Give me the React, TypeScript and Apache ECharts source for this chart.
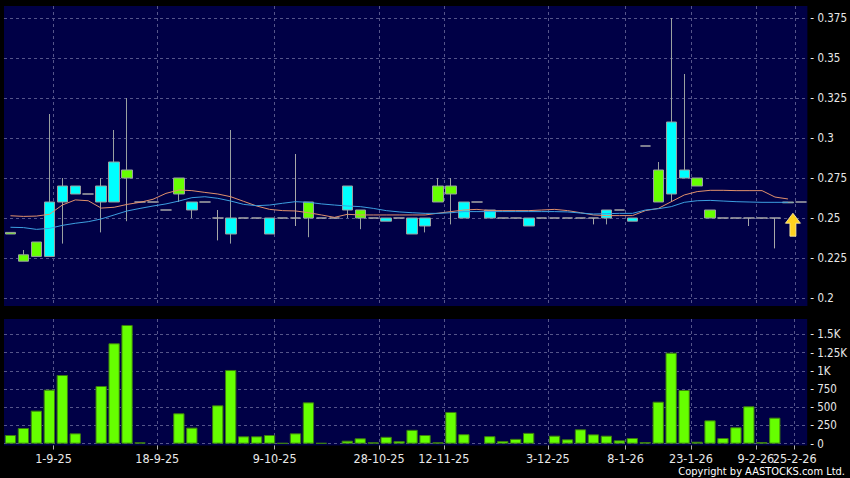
import React, { useEffect, useRef } from "react";
import * as echarts from "echarts";

// Slots of the category axis (one per trading slot shown)
const SLOTS: string[] = Array.from({ length: 62 }, (_, i) => String(i));

// Date tick labels and their positions (in slot units)
const DATE_LABELS = ["1-9-25", "18-9-25", "9-10-25", "28-10-25", "12-11-25", "3-12-25", "8-1-26", "23-1-26", "9-2-26", "25-2-26"];
const DATE_POS = [3.32, 11.33, 20.39, 28.45, 33.45, 41.48, 47.48, 52.53, 57.54, 60.54];

const PRICE_TICKS = [0.2, 0.225, 0.25, 0.275, 0.3, 0.325, 0.35, 0.375];
const VOLUME_TICKS = [0, 250, 500, 750, 1000, 1250, 1500];

// [open, close, low, high]
const CANDLES: (number[] | null)[] = [
  [0.241, 0.240, 0.240, 0.241],
  [0.227, 0.223, 0.223, 0.230],
  [0.235, 0.226, 0.226, 0.235],
  [0.226, 0.260, 0.226, 0.315],
  [0.260, 0.270, 0.234, 0.275],
  [0.265, 0.270, 0.265, 0.270],
  [0.265, 0.265, 0.265, 0.265],
  [0.260, 0.270, 0.241, 0.275],
  [0.260, 0.285, 0.260, 0.305],
  [0.280, 0.275, 0.248, 0.325],
  [0.260, 0.260, 0.260, 0.260],
  [0.260, 0.260, 0.260, 0.260],
  [0.255, 0.255, 0.255, 0.255],
  [0.275, 0.265, 0.260, 0.275],
  [0.255, 0.260, 0.250, 0.260],
  [0.260, 0.260, 0.260, 0.260],
  [0.250, 0.250, 0.236, 0.255],
  [0.240, 0.250, 0.234, 0.305],
  [0.250, 0.250, 0.250, 0.250],
  [0.250, 0.250, 0.250, 0.250],
  [0.240, 0.250, 0.240, 0.250],
  [0.250, 0.250, 0.250, 0.250],
  [0.250, 0.250, 0.245, 0.290],
  [0.260, 0.250, 0.238, 0.260],
  [0.250, 0.250, 0.250, 0.250],
  [0.250, 0.250, 0.250, 0.250],
  [0.255, 0.270, 0.250, 0.270],
  [0.255, 0.250, 0.243, 0.255],
  [0.250, 0.250, 0.250, 0.250],
  [0.248, 0.250, 0.248, 0.250],
  [0.250, 0.250, 0.250, 0.250],
  [0.240, 0.250, 0.240, 0.250],
  [0.245, 0.250, 0.241, 0.250],
  [0.270, 0.260, 0.260, 0.275],
  [0.270, 0.265, 0.246, 0.275],
  [0.250, 0.260, 0.250, 0.260],
  [0.260, 0.260, 0.260, 0.260],
  [0.250, 0.255, 0.250, 0.255],
  [0.250, 0.250, 0.250, 0.250],
  [0.250, 0.250, 0.250, 0.250],
  [0.245, 0.250, 0.245, 0.250],
  [0.250, 0.250, 0.250, 0.250],
  [0.250, 0.250, 0.250, 0.250],
  [0.250, 0.250, 0.250, 0.250],
  [0.250, 0.250, 0.250, 0.250],
  [0.250, 0.250, 0.246, 0.250],
  [0.250, 0.255, 0.246, 0.255],
  [0.255, 0.255, 0.255, 0.255],
  [0.248, 0.250, 0.248, 0.250],
  [0.295, 0.295, 0.295, 0.295],
  [0.280, 0.260, 0.260, 0.285],
  [0.265, 0.310, 0.260, 0.375],
  [0.275, 0.280, 0.275, 0.340],
  [0.275, 0.270, 0.270, 0.275],
  [0.255, 0.250, 0.250, 0.255],
  [0.250, 0.250, 0.250, 0.250],
  [0.250, 0.250, 0.250, 0.250],
  [0.250, 0.250, 0.245, 0.250],
  [0.250, 0.250, 0.250, 0.250],
  [0.250, 0.250, 0.231, 0.250],
  [0.2595, 0.260, 0.2595, 0.260],
  [0.260, 0.260, 0.260, 0.260],
];

const MA_SHORT: (number | null)[] = [
  0.2514, 0.2510, 0.2512, 0.2523, 0.2581, 0.2613, 0.2608, 0.2562, 0.2567, 0.2585,
  0.2598, 0.2617, 0.2654, 0.2675, 0.2671, 0.2660, 0.2650, 0.2633, 0.2604, 0.2575,
  0.2554, 0.2546, 0.2544, 0.2533, 0.2519, 0.2504, 0.2523, 0.2519, 0.2519, 0.2519,
  0.2519, 0.2519, 0.2519, 0.2530, 0.2540, 0.2550, 0.2554, 0.2546, 0.2546, 0.2546,
  0.2546, 0.2550, 0.2554, 0.2546, 0.2533, 0.2519, 0.2515, 0.2515, 0.2515, 0.2546,
  0.2560, 0.2602, 0.2644, 0.2665, 0.2673, 0.2673, 0.2671, 0.2671, 0.2671, 0.2631,
  0.2619, null,
];

const MA_LONG: (number | null)[] = [
  0.2442, 0.2440, 0.2429, 0.2435, 0.2454, 0.2467, 0.2477, 0.2494, 0.2519, 0.2544,
  0.2560, 0.2575, 0.2588, 0.2606, 0.2627, 0.2633, 0.2623, 0.2606, 0.2585, 0.2577,
  0.2581, 0.2592, 0.2602, 0.2598, 0.2588, 0.2581, 0.2575, 0.2571, 0.2560, 0.2546,
  0.2538, 0.2533, 0.2529, 0.2529, 0.2533, 0.2540, 0.2540, 0.2540, 0.2540, 0.2540,
  0.2540, 0.2540, 0.2540, 0.2538, 0.2531, 0.2525, 0.2527, 0.2529, 0.2529, 0.2550,
  0.2558, 0.2571, 0.2598, 0.2608, 0.2610, 0.2606, 0.2602, 0.2600, 0.2598, 0.2598,
  0.2598, null,
];

const VOLUME: number[] = [
  119, 215, 453, 741, 942, 142, 0, 791, 1377, 1628,
  19, 0, 0, 417, 220, 0, 526, 1011, 101, 101,
  119, 10, 142, 567, 10, 0, 41, 74, 19, 94,
  35, 190, 119, 19, 435, 130, 0, 103, 37, 66,
  148, 0, 110, 60, 197, 128, 110, 46, 78, 23,
  576, 1248, 736, 27, 320, 78, 225, 513, 23, 357,
  0, 0,
];

// Arrow marker [slot, price]
const ARROW: [number, number] = [60, 0.2458];

const FONT = '"DejaVu Sans Condensed", "DejaVu Sans", sans-serif';
const PANEL = "#000046";
const GRIDLINE = "#55558a";
const DASH = "#a8a8a8";

export default function App() {
  const ref = useRef<HTMLDivElement>(null);

  useEffect(() => {
    const chart = echarts.init(ref.current!, null, { renderer: "svg" });

    const candleData = CANDLES.map((c) => {
      if (!c) return "-";
      if (c[0] === c[1]) {
        return {
          value: c,
          itemStyle: { color: DASH, color0: DASH, borderColor: DASH, borderColor0: DASH, borderColorDoji: DASH },
        };
      }
      return c;
    });

    const splitLine = { show: true, lineStyle: { color: GRIDLINE, type: [3, 3], width: 1 } };

    // Two label axes so that the overlapping last two labels are both drawn
    const mainPos = DATE_POS.slice(0, DATE_POS.length - 1);
    const lastPos = DATE_POS.slice(DATE_POS.length - 1);
    const labelAxis = (pos: number[], withSplit: boolean) => ({
      type: "value", gridIndex: 1, min: -0.5, max: 61.5, position: "bottom",
      axisLine: { show: false, onZero: false },
      axisTick: { show: true, length: 4, customValues: pos, lineStyle: { color: "#b0b0b0" } },
      axisLabel: {
        customValues: pos,
        showMinLabel: true,
        showMaxLabel: true,
        hideOverlap: false,
        margin: 6,
        color: "#e8e8e8",
        fontSize: 12.5,
        fontFamily: FONT,
        formatter: (v: number) => {
          const i = DATE_POS.indexOf(v);
          return i >= 0 ? DATE_LABELS[i] : "";
        },
      },
      splitLine: withSplit ? splitLine : { show: false },
    });

    const option: any = {
      animation: false,
      backgroundColor: "#000",
      grid: [
        { left: 4, right: 42, top: 6, height: 300, show: true, backgroundColor: PANEL, borderWidth: 0 },
        { left: 4, right: 42, top: 319, height: 126.5, show: true, backgroundColor: PANEL, borderWidth: 0 },
      ],
      xAxis: [
        { type: "category", gridIndex: 0, data: SLOTS, show: false, boundaryGap: true },
        { type: "category", gridIndex: 1, data: SLOTS, show: false, boundaryGap: true },
        {
          type: "value", gridIndex: 0, min: -0.5, max: 61.5,
          axisLine: { show: false },
          axisTick: { show: false, customValues: DATE_POS },
          axisLabel: { show: false, customValues: DATE_POS },
          splitLine,
        },
        labelAxis(mainPos, true),
        labelAxis(lastPos, true),
      ],
      yAxis: [
        {
          type: "value", gridIndex: 0, position: "right", min: 0.195, max: 0.3825, scale: true,
          axisLine: { show: false },
          axisTick: { show: false, customValues: PRICE_TICKS },
          axisLabel: {
            customValues: PRICE_TICKS, margin: 3, color: "#e8e8e8", fontSize: 11.5, fontFamily: FONT,
            formatter: (v: number) => "- " + String(v),
          },
          splitLine,
        },
        {
          type: "value", gridIndex: 1, position: "right", min: -25, max: 1710,
          axisLine: { show: false },
          axisTick: { show: false, customValues: VOLUME_TICKS },
          axisLabel: {
            customValues: VOLUME_TICKS, margin: 3, color: "#e8e8e8", fontSize: 11.5, fontFamily: FONT,
            formatter: (v: number) => "- " + (v >= 1000 ? String(v / 1000) + "K" : String(v)),
          },
          splitLine,
        },
      ],
      series: [
        {
          type: "candlestick",
          xAxisIndex: 0, yAxisIndex: 0,
          data: candleData,
          barWidth: 11,
          itemStyle: {
            color: "#00ffff", color0: "#66ff00",
            borderColor: "#9aa0a0", borderColor0: "#9aa0a0", borderColorDoji: DASH,
            borderWidth: 1,
          },
          z: 2,
        },
        {
          type: "line", xAxisIndex: 0, yAxisIndex: 0, data: MA_SHORT,
          showSymbol: false, symbol: "none",
          lineStyle: { color: "#e0906c", width: 1 }, z: 3,
        },
        {
          type: "line", xAxisIndex: 0, yAxisIndex: 0, data: MA_LONG,
          showSymbol: false, symbol: "none",
          lineStyle: { color: "#3d9fe0", width: 1 }, z: 3,
        },
        {
          type: "scatter", xAxisIndex: 0, yAxisIndex: 0,
          data: [ARROW],
          symbol: "path://M7.5 0 L15 10 L10.5 10 L10.5 23 L4.5 23 L4.5 10 L0 10 Z",
          symbolSize: [15, 23],
          symbolOffset: [5, 0],
          itemStyle: {
            color: "#ffd21f",
            borderColor: "#ffeeaa", borderWidth: 0.8,
            opacity: 1,
          },
          z: 4,
        },
        {
          type: "bar", xAxisIndex: 1, yAxisIndex: 1,
          data: VOLUME.map((v) => (v > 0 ? v : "-")),
          barWidth: 11.3,
          itemStyle: { color: "#66ff00", borderColor: "#3c7d10", borderWidth: 1 },
          z: 2,
        },
      ],
      graphic: [
        {
          type: "text", x: 845, y: 471,
          style: {
            text: "Copyright by AASTOCKS.com Ltd.",
            fill: "#ffffff", font: '11px "DejaVu Sans Condensed", "DejaVu Sans", sans-serif',
            align: "right", verticalAlign: "middle",
          },
        },
      ],
    };

    chart.setOption(option);
    return () => chart.dispose();
  }, []);

  return (
    <div
      ref={ref}
      style={{ position: "fixed", left: 0, top: 0, width: 850, height: 478, background: "#000" }}
    />
  );
}
